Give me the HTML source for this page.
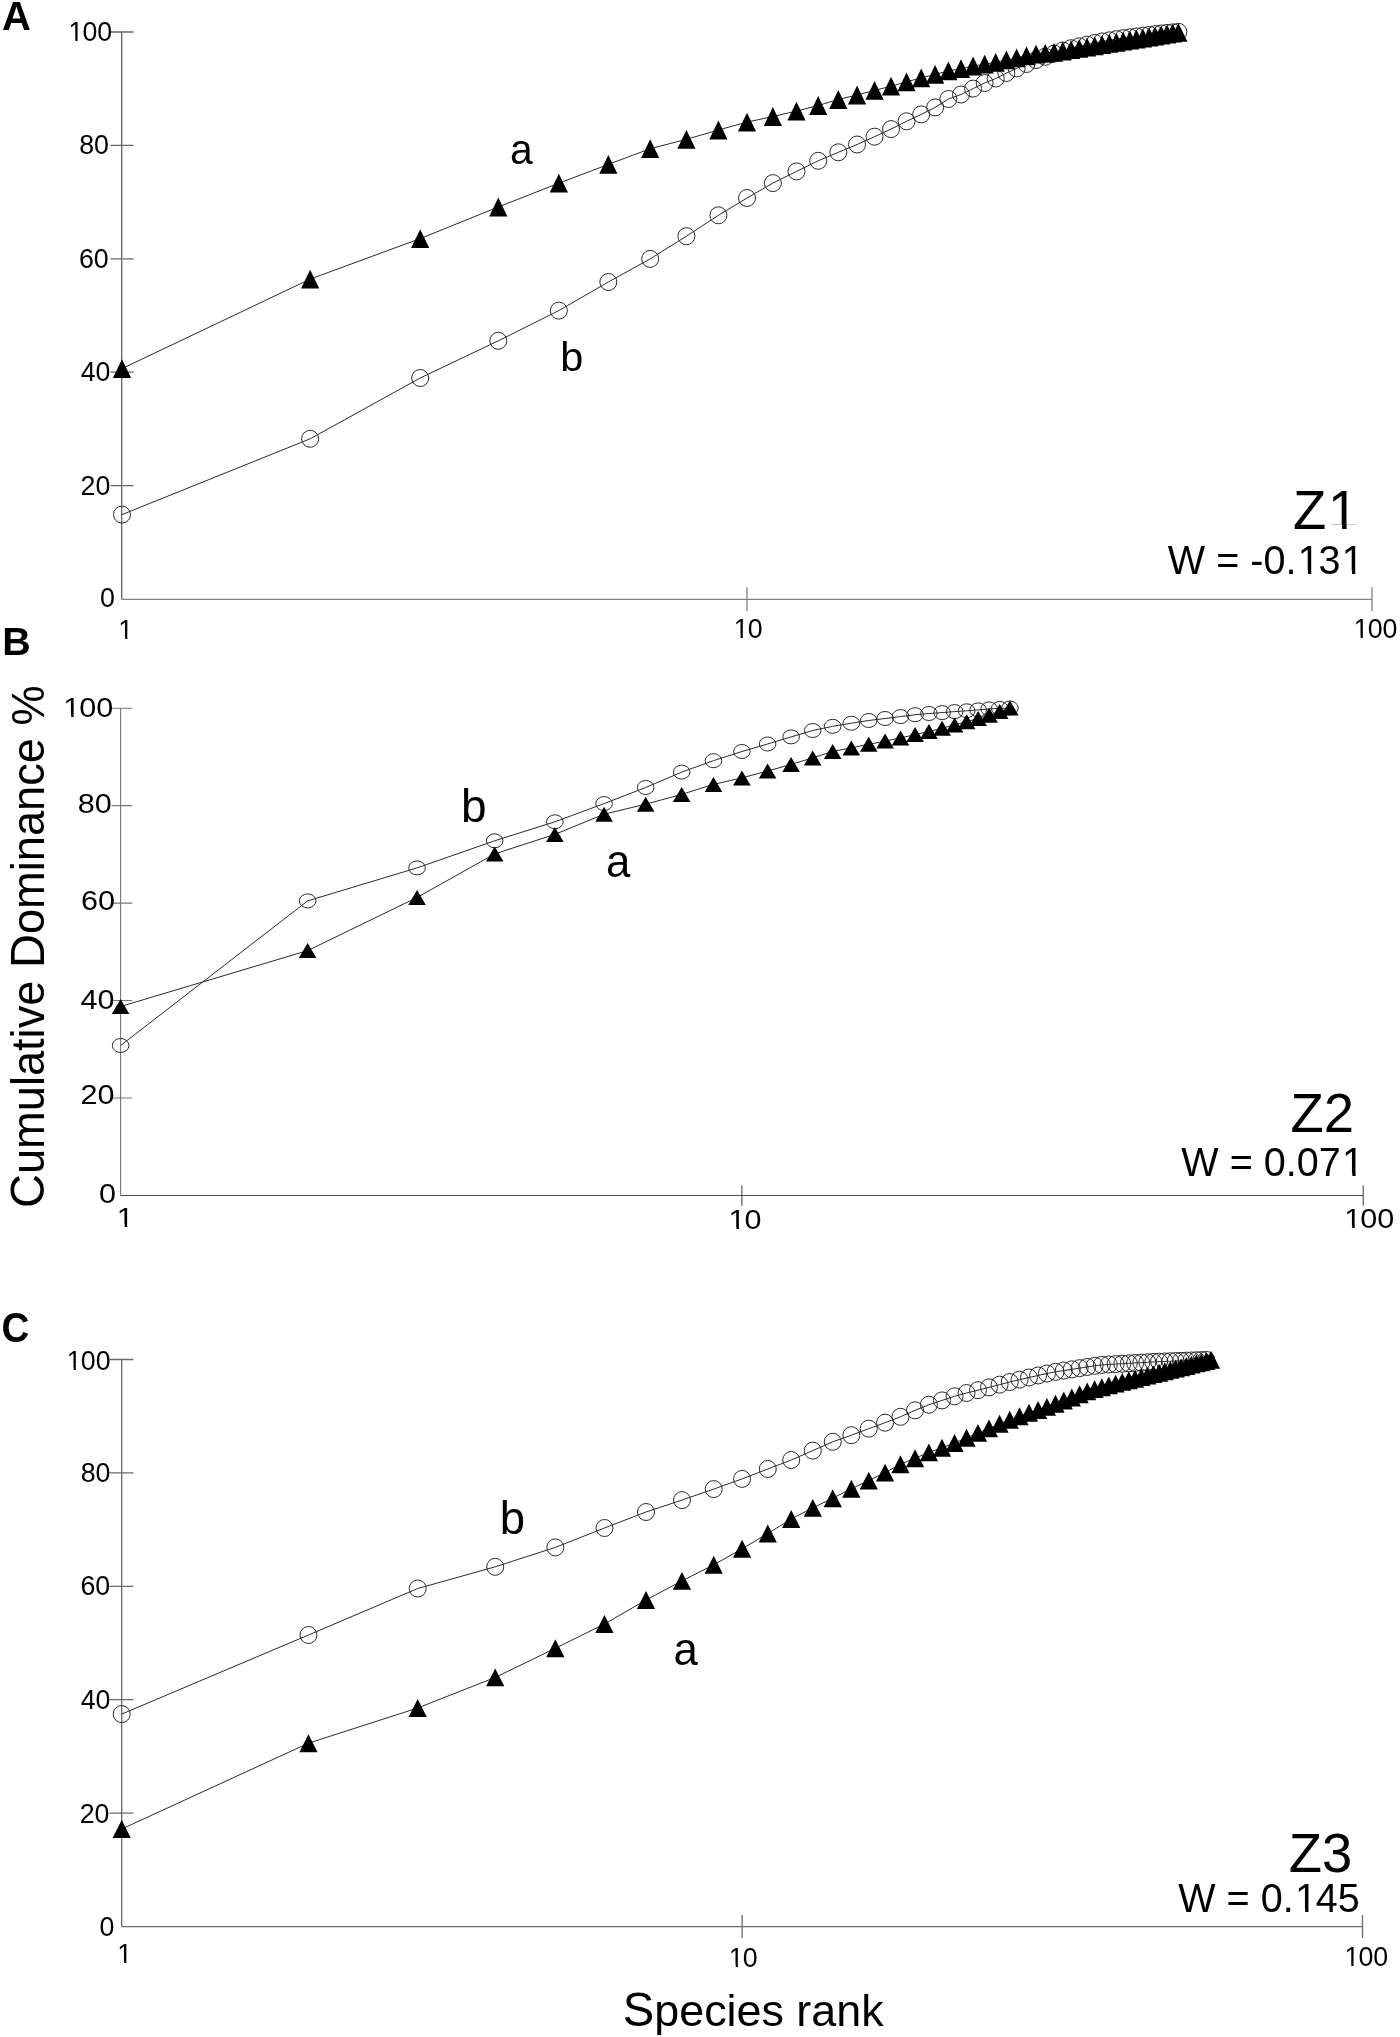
<!DOCTYPE html>
<html><head><meta charset="utf-8"><title>k-dominance curves</title>
<style>html,body{margin:0;padding:0;background:#fff}body{width:1400px;height:2037px;overflow:hidden;font-family:"Liberation Sans", sans-serif}svg{display:block;will-change:transform}</style>
</head><body>
<svg width="1400" height="2037" viewBox="0 0 1400 2037" font-family='"Liberation Sans", sans-serif' fill="#000">
<rect width="1400" height="2037" fill="#fff"/>
<path d="M121.7 32V599.3M110.5 485.6H133.5M110.5 372.2H133.5M110.5 258.8H133.5M110.5 145.4H133.5M110.5 32H133.5" fill="none" stroke="#666" stroke-width="1.3"/>
<path d="M121.7 599.3H1372M747 587.3V611.3M1372 587.3V611.3" fill="none" stroke="#808080" stroke-width="1.3"/>
<path d="M122 368.6 L310.14 279.1 L420.2 238.6 L498.29 207 L558.86 183.2 L608.34 164.4 L650.19 148.7 L686.43 139.3 L718.4 130 L747 122.1 L772.87 116.5 L796.49 111.1 L818.21 105.5 L838.33 99.5 L857.06 95 L874.57 90.4 L891.03 86.2 L906.55 81.8 L921.22 77.9 L935.14 74.4 L948.39 70.9 L961.01 68.6 L973.08 66 L984.63 64.2 L995.71 62.3 L1006.36 59.9 L1016.6 57.8 L1026.47 55.9 L1036 54.2 L1045.2 53.3 L1054.1 52.4 L1062.72 51 L1071.07 49.65 L1079.17 48.34 L1087.04 47.07 L1094.69 45.83 L1102.13 44.63 L1109.36 43.46 L1116.42 42.32 L1123.29 41.21 L1129.99 40.12 L1136.53 39.07 L1142.92 38.03 L1149.16 37.02 L1155.26 36.04 L1161.22 35.07 L1167.06 34.13 L1172.78 33.2 L1178.37 32.3" fill="none" stroke="#2a2a2a" stroke-width="1.0"/>
<path d="M122 514.6 L310.14 438.8 L420.2 378 L498.29 340.8 L558.86 310.6 L608.34 282 L650.19 258.9 L686.43 236.2 L718.4 215.3 L747 198 L772.87 183.1 L796.49 171.4 L818.21 160.8 L838.33 152.3 L857.06 144.5 L874.57 136.7 L891.03 129.1 L906.55 121.3 L921.22 114.4 L935.14 107.4 L948.39 99 L961.01 94.5 L973.08 88.6 L984.63 83 L995.71 78.5 L1006.36 73 L1016.6 68.5 L1026.47 64 L1036 60 L1045.2 56.8 L1054.1 53.6 L1062.72 50.5 L1071.07 48.2 L1079.17 46.3 L1087.04 44.6 L1094.69 42.95 L1102.13 41.46 L1109.36 40.3 L1116.42 39.17 L1123.29 38.17 L1129.99 37.3 L1136.53 36.45 L1142.92 35.65 L1149.16 34.9 L1155.26 34.17 L1161.22 33.48 L1167.06 32.91 L1172.78 32.35 L1178.37 31.8" fill="none" stroke="#2a2a2a" stroke-width="1.0"/>
<g fill="none" stroke="#2a2a2a" stroke-width="1.0">
<circle cx="122" cy="514.6" r="8.5"/>
<circle cx="310.14" cy="438.8" r="8.5"/>
<circle cx="420.2" cy="378" r="8.5"/>
<circle cx="498.29" cy="340.8" r="8.5"/>
<circle cx="558.86" cy="310.6" r="8.5"/>
<circle cx="608.34" cy="282" r="8.5"/>
<circle cx="650.19" cy="258.9" r="8.5"/>
<circle cx="686.43" cy="236.2" r="8.5"/>
<circle cx="718.4" cy="215.3" r="8.5"/>
<circle cx="747" cy="198" r="8.5"/>
<circle cx="772.87" cy="183.1" r="8.5"/>
<circle cx="796.49" cy="171.4" r="8.5"/>
<circle cx="818.21" cy="160.8" r="8.5"/>
<circle cx="838.33" cy="152.3" r="8.5"/>
<circle cx="857.06" cy="144.5" r="8.5"/>
<circle cx="874.57" cy="136.7" r="8.5"/>
<circle cx="891.03" cy="129.1" r="8.5"/>
<circle cx="906.55" cy="121.3" r="8.5"/>
<circle cx="921.22" cy="114.4" r="8.5"/>
<circle cx="935.14" cy="107.4" r="8.5"/>
<circle cx="948.39" cy="99" r="8.5"/>
<circle cx="961.01" cy="94.5" r="8.5"/>
<circle cx="973.08" cy="88.6" r="8.5"/>
<circle cx="984.63" cy="83" r="8.5"/>
<circle cx="995.71" cy="78.5" r="8.5"/>
<circle cx="1006.36" cy="73" r="8.5"/>
<circle cx="1016.6" cy="68.5" r="8.5"/>
<circle cx="1026.47" cy="64" r="8.5"/>
<circle cx="1036" cy="60" r="8.5"/>
<circle cx="1045.2" cy="56.8" r="8.5"/>
<circle cx="1054.1" cy="53.6" r="8.5"/>
<circle cx="1062.72" cy="50.5" r="8.5"/>
<circle cx="1071.07" cy="48.2" r="8.5"/>
<circle cx="1079.17" cy="46.3" r="8.5"/>
<circle cx="1087.04" cy="44.6" r="8.5"/>
<circle cx="1094.69" cy="42.95" r="8.5"/>
<circle cx="1102.13" cy="41.46" r="8.5"/>
<circle cx="1109.36" cy="40.3" r="8.5"/>
<circle cx="1116.42" cy="39.17" r="8.5"/>
<circle cx="1123.29" cy="38.17" r="8.5"/>
<circle cx="1129.99" cy="37.3" r="8.5"/>
<circle cx="1136.53" cy="36.45" r="8.5"/>
<circle cx="1142.92" cy="35.65" r="8.5"/>
<circle cx="1149.16" cy="34.9" r="8.5"/>
<circle cx="1155.26" cy="34.17" r="8.5"/>
<circle cx="1161.22" cy="33.48" r="8.5"/>
<circle cx="1167.06" cy="32.91" r="8.5"/>
<circle cx="1172.78" cy="32.35" r="8.5"/>
<circle cx="1178.37" cy="31.8" r="8.5"/>
</g>
<path d="M122 359.2L131.1 378L112.9 378ZM310.14 269.7L319.24 288.5L301.04 288.5ZM420.2 229.2L429.3 248L411.1 248ZM498.29 197.6L507.39 216.4L489.19 216.4ZM558.86 173.8L567.96 192.6L549.76 192.6ZM608.34 155L617.44 173.8L599.24 173.8ZM650.19 139.3L659.29 158.1L641.09 158.1ZM686.43 129.9L695.53 148.7L677.33 148.7ZM718.4 120.6L727.5 139.4L709.3 139.4ZM747 112.7L756.1 131.5L737.9 131.5ZM772.87 107.1L781.97 125.9L763.77 125.9ZM796.49 101.7L805.59 120.5L787.39 120.5ZM818.21 96.1L827.31 114.9L809.11 114.9ZM838.33 90.1L847.43 108.9L829.23 108.9ZM857.06 85.6L866.16 104.4L847.96 104.4ZM874.57 81L883.67 99.8L865.47 99.8ZM891.03 76.8L900.13 95.6L881.93 95.6ZM906.55 72.4L915.65 91.2L897.45 91.2ZM921.22 68.5L930.32 87.3L912.12 87.3ZM935.14 65L944.24 83.8L926.04 83.8ZM948.39 61.5L957.49 80.3L939.29 80.3ZM961.01 59.2L970.11 78L951.91 78ZM973.08 56.6L982.18 75.4L963.98 75.4ZM984.63 54.8L993.73 73.6L975.53 73.6ZM995.71 52.9L1004.81 71.7L986.61 71.7ZM1006.36 50.5L1015.46 69.3L997.26 69.3ZM1016.6 48.4L1025.7 67.2L1007.5 67.2ZM1026.47 46.5L1035.57 65.3L1017.37 65.3ZM1036 44.8L1045.1 63.6L1026.9 63.6ZM1045.2 43.9L1054.3 62.7L1036.1 62.7ZM1054.1 43L1063.2 61.8L1045 61.8ZM1062.72 41.6L1071.82 60.4L1053.62 60.4ZM1071.07 40.25L1080.17 59.05L1061.97 59.05ZM1079.17 38.94L1088.27 57.74L1070.07 57.74ZM1087.04 37.67L1096.14 56.47L1077.94 56.47ZM1094.69 36.43L1103.79 55.23L1085.59 55.23ZM1102.13 35.23L1111.23 54.03L1093.03 54.03ZM1109.36 34.06L1118.46 52.86L1100.26 52.86ZM1116.42 32.92L1125.52 51.72L1107.32 51.72ZM1123.29 31.81L1132.39 50.61L1114.19 50.61ZM1129.99 30.72L1139.09 49.52L1120.89 49.52ZM1136.53 29.67L1145.63 48.47L1127.43 48.47ZM1142.92 28.63L1152.02 47.43L1133.82 47.43ZM1149.16 27.62L1158.26 46.42L1140.06 46.42ZM1155.26 26.64L1164.36 45.44L1146.16 45.44ZM1161.22 25.67L1170.32 44.47L1152.12 44.47ZM1167.06 24.73L1176.16 43.53L1157.96 43.53ZM1172.78 23.8L1181.88 42.6L1163.68 42.6ZM1178.37 22.9L1187.47 41.7L1169.27 41.7Z" fill="#000"/>
<path d="M120.6 708.2V1195.5M111.5 1097.96H132.2M111.5 1000.52H132.2M111.5 903.08H132.2M111.5 805.64H132.2M111.5 708.2H132.2" fill="none" stroke="#777" stroke-width="1.1"/>
<path d="M120.6 1195.5H1363.2M741.9 1185.2V1205.7M1363.2 1185.2V1205.7" fill="none" stroke="#4a4a4a" stroke-width="1.1"/>
<path d="M120.6 1006.5 L307.63 950.6 L417.04 897.5 L494.66 853.9 L554.87 834.4 L604.07 814.2 L645.66 804.2 L681.69 794.4 L713.47 784.4 L741.9 777.9 L767.62 771 L791.1 764.4 L812.69 757.9 L832.69 751.4 L851.31 747.9 L868.72 744.3 L885.08 741.1 L900.5 737.9 L915.09 734.6 L928.93 731.5 L942.09 728.2 L954.65 724.9 L966.64 721.8 L978.13 718.4 L989.14 715.3 L999.72 711.6 L1009.91 708" fill="none" stroke="#2a2a2a" stroke-width="1.0"/>
<path d="M120.6 1045.5 L307.63 900.9 L417.04 867.9 L494.66 840.8 L554.87 821.8 L604.07 803.6 L645.66 787.5 L681.69 772.1 L713.47 760.7 L741.9 751.5 L767.62 744 L791.1 736.9 L812.69 730.5 L832.69 726.3 L851.31 723.2 L868.72 720.5 L885.08 718.5 L900.5 716.6 L915.09 714.7 L928.93 713.5 L942.09 712.6 L954.65 711.6 L966.64 710.8 L978.13 709.9 L989.14 708.9 L999.72 708.4 L1009.91 708" fill="none" stroke="#2a2a2a" stroke-width="1.0"/>
<g fill="none" stroke="#2a2a2a" stroke-width="1.0">
<ellipse cx="120.6" cy="1045.5" rx="8.3" ry="7"/>
<ellipse cx="307.63" cy="900.9" rx="8.3" ry="7"/>
<ellipse cx="417.04" cy="867.9" rx="8.3" ry="7"/>
<ellipse cx="494.66" cy="840.8" rx="8.3" ry="7"/>
<ellipse cx="554.87" cy="821.8" rx="8.3" ry="7"/>
<ellipse cx="604.07" cy="803.6" rx="8.3" ry="7"/>
<ellipse cx="645.66" cy="787.5" rx="8.3" ry="7"/>
<ellipse cx="681.69" cy="772.1" rx="8.3" ry="7"/>
<ellipse cx="713.47" cy="760.7" rx="8.3" ry="7"/>
<ellipse cx="741.9" cy="751.5" rx="8.3" ry="7"/>
<ellipse cx="767.62" cy="744" rx="8.3" ry="7"/>
<ellipse cx="791.1" cy="736.9" rx="8.3" ry="7"/>
<ellipse cx="812.69" cy="730.5" rx="8.3" ry="7"/>
<ellipse cx="832.69" cy="726.3" rx="8.3" ry="7"/>
<ellipse cx="851.31" cy="723.2" rx="8.3" ry="7"/>
<ellipse cx="868.72" cy="720.5" rx="8.3" ry="7"/>
<ellipse cx="885.08" cy="718.5" rx="8.3" ry="7"/>
<ellipse cx="900.5" cy="716.6" rx="8.3" ry="7"/>
<ellipse cx="915.09" cy="714.7" rx="8.3" ry="7"/>
<ellipse cx="928.93" cy="713.5" rx="8.3" ry="7"/>
<ellipse cx="942.09" cy="712.6" rx="8.3" ry="7"/>
<ellipse cx="954.65" cy="711.6" rx="8.3" ry="7"/>
<ellipse cx="966.64" cy="710.8" rx="8.3" ry="7"/>
<ellipse cx="978.13" cy="709.9" rx="8.3" ry="7"/>
<ellipse cx="989.14" cy="708.9" rx="8.3" ry="7"/>
<ellipse cx="999.72" cy="708.4" rx="8.3" ry="7"/>
<ellipse cx="1009.91" cy="708" rx="8.3" ry="7"/>
</g>
<path d="M120.6 999L129.4 1014L111.8 1014ZM307.63 943.1L316.43 958.1L298.83 958.1ZM417.04 890L425.84 905L408.24 905ZM494.66 846.4L503.46 861.4L485.86 861.4ZM554.87 826.9L563.67 841.9L546.07 841.9ZM604.07 806.7L612.87 821.7L595.27 821.7ZM645.66 796.7L654.46 811.7L636.86 811.7ZM681.69 786.9L690.49 801.9L672.89 801.9ZM713.47 776.9L722.27 791.9L704.67 791.9ZM741.9 770.4L750.7 785.4L733.1 785.4ZM767.62 763.5L776.42 778.5L758.82 778.5ZM791.1 756.9L799.9 771.9L782.3 771.9ZM812.69 750.4L821.49 765.4L803.89 765.4ZM832.69 743.9L841.49 758.9L823.89 758.9ZM851.31 740.4L860.11 755.4L842.51 755.4ZM868.72 736.8L877.52 751.8L859.92 751.8ZM885.08 733.6L893.88 748.6L876.28 748.6ZM900.5 730.4L909.3 745.4L891.7 745.4ZM915.09 727.1L923.89 742.1L906.29 742.1ZM928.93 724L937.73 739L920.13 739ZM942.09 720.7L950.89 735.7L933.29 735.7ZM954.65 717.4L963.45 732.4L945.85 732.4ZM966.64 714.3L975.44 729.3L957.84 729.3ZM978.13 710.9L986.93 725.9L969.33 725.9ZM989.14 707.8L997.94 722.8L980.34 722.8ZM999.72 704.1L1008.52 719.1L990.92 719.1ZM1009.91 700.5L1018.71 715.5L1001.11 715.5Z" fill="#000"/>
<path d="M121.7 1359.5V1926.6M109.5 1813.1H133.5M109.5 1699.7H133.5M109.5 1586.3H133.5M109.5 1472.9H133.5M109.5 1359.5H133.5" fill="none" stroke="#6a6a6a" stroke-width="1.3"/>
<path d="M121.7 1926.6H1362.5M742.1 1915.1V1938.1M1362.5 1915.1V1938.1" fill="none" stroke="#6a6a6a" stroke-width="1.3"/>
<path d="M121.7 1829 L308.46 1743.2 L417.71 1708 L495.22 1677.4 L555.34 1648.3 L604.47 1624 L646 1600 L681.98 1580.9 L713.71 1564.8 L742.1 1548.8 L767.78 1533.5 L791.22 1519 L812.79 1507.9 L832.76 1498.2 L851.35 1488.7 L868.74 1480.6 L885.07 1472.6 L900.47 1464.2 L915.04 1458.2 L928.86 1452.4 L942 1447.8 L954.54 1443 L966.52 1437.8 L977.98 1432.9 L988.98 1428.4 L999.55 1423.8 L1009.72 1419.7 L1019.52 1416.2 L1028.97 1412.8 L1038.11 1410 L1046.94 1406.9 L1055.5 1403.7 L1063.79 1400.5 L1071.83 1397.5 L1079.64 1394.2 L1087.23 1391.4 L1094.61 1389.1 L1101.8 1387.2 L1108.8 1385.4 L1115.62 1383.6 L1122.27 1381.9 L1128.76 1380.28 L1135.1 1378.69 L1141.3 1377.15 L1147.35 1375.63 L1153.27 1374.15 L1159.07 1372.71 L1164.74 1371.29 L1170.3 1369.9 L1175.74 1368.55 L1181.08 1367.23 L1186.31 1365.93 L1191.44 1364.66 L1196.48 1363.41 L1201.42 1362.19 L1206.28 1360.98 L1211.04 1359.8" fill="none" stroke="#2a2a2a" stroke-width="1.0"/>
<path d="M121.7 1714.1 L308.46 1635 L417.71 1588.5 L495.22 1566.8 L555.34 1547.4 L604.47 1528 L646 1512 L681.98 1500.1 L713.71 1489.1 L742.1 1478.9 L767.78 1469 L791.22 1460 L812.79 1450.6 L832.76 1441.8 L851.35 1435.2 L868.74 1428.7 L885.07 1422.7 L900.47 1416.8 L915.04 1410.3 L928.86 1404.7 L942 1400.4 L954.54 1396.3 L966.52 1393 L977.98 1390.2 L988.98 1387.37 L999.55 1384.65 L1009.72 1382.04 L1019.52 1379.64 L1028.97 1377.53 L1038.11 1375.48 L1046.94 1373.5 L1055.5 1371.87 L1063.79 1370.59 L1071.83 1369.34 L1079.64 1368.14 L1087.23 1366.96 L1094.61 1365.83 L1101.8 1364.9 L1108.8 1364.49 L1115.62 1364.1 L1122.27 1363.72 L1128.76 1363.35 L1135.1 1362.98 L1141.3 1362.63 L1147.35 1362.28 L1153.27 1361.94 L1159.07 1361.67 L1164.74 1361.46 L1170.3 1361.25 L1175.74 1361.05 L1181.08 1360.85 L1186.31 1360.65 L1191.44 1360.46 L1196.48 1360.27 L1201.42 1360.08 L1206.28 1359.9" fill="none" stroke="#2a2a2a" stroke-width="1.0"/>
<g fill="none" stroke="#2a2a2a" stroke-width="1.0">
<circle cx="121.7" cy="1714.1" r="8.5"/>
<circle cx="308.46" cy="1635" r="8.5"/>
<circle cx="417.71" cy="1588.5" r="8.5"/>
<circle cx="495.22" cy="1566.8" r="8.5"/>
<circle cx="555.34" cy="1547.4" r="8.5"/>
<circle cx="604.47" cy="1528" r="8.5"/>
<circle cx="646" cy="1512" r="8.5"/>
<circle cx="681.98" cy="1500.1" r="8.5"/>
<circle cx="713.71" cy="1489.1" r="8.5"/>
<circle cx="742.1" cy="1478.9" r="8.5"/>
<circle cx="767.78" cy="1469" r="8.5"/>
<circle cx="791.22" cy="1460" r="8.5"/>
<circle cx="812.79" cy="1450.6" r="8.5"/>
<circle cx="832.76" cy="1441.8" r="8.5"/>
<circle cx="851.35" cy="1435.2" r="8.5"/>
<circle cx="868.74" cy="1428.7" r="8.5"/>
<circle cx="885.07" cy="1422.7" r="8.5"/>
<circle cx="900.47" cy="1416.8" r="8.5"/>
<circle cx="915.04" cy="1410.3" r="8.5"/>
<circle cx="928.86" cy="1404.7" r="8.5"/>
<circle cx="942" cy="1400.4" r="8.5"/>
<circle cx="954.54" cy="1396.3" r="8.5"/>
<circle cx="966.52" cy="1393" r="8.5"/>
<circle cx="977.98" cy="1390.2" r="8.5"/>
<circle cx="988.98" cy="1387.37" r="8.5"/>
<circle cx="999.55" cy="1384.65" r="8.5"/>
<circle cx="1009.72" cy="1382.04" r="8.5"/>
<circle cx="1019.52" cy="1379.64" r="8.5"/>
<circle cx="1028.97" cy="1377.53" r="8.5"/>
<circle cx="1038.11" cy="1375.48" r="8.5"/>
<circle cx="1046.94" cy="1373.5" r="8.5"/>
<circle cx="1055.5" cy="1371.87" r="8.5"/>
<circle cx="1063.79" cy="1370.59" r="8.5"/>
<circle cx="1071.83" cy="1369.34" r="8.5"/>
<circle cx="1079.64" cy="1368.14" r="8.5"/>
<circle cx="1087.23" cy="1366.96" r="8.5"/>
<circle cx="1094.61" cy="1365.83" r="8.5"/>
<circle cx="1101.8" cy="1364.9" r="8.5"/>
<circle cx="1108.8" cy="1364.49" r="8.5"/>
<circle cx="1115.62" cy="1364.1" r="8.5"/>
<circle cx="1122.27" cy="1363.72" r="8.5"/>
<circle cx="1128.76" cy="1363.35" r="8.5"/>
<circle cx="1135.1" cy="1362.98" r="8.5"/>
<circle cx="1141.3" cy="1362.63" r="8.5"/>
<circle cx="1147.35" cy="1362.28" r="8.5"/>
<circle cx="1153.27" cy="1361.94" r="8.5"/>
<circle cx="1159.07" cy="1361.67" r="8.5"/>
<circle cx="1164.74" cy="1361.46" r="8.5"/>
<circle cx="1170.3" cy="1361.25" r="8.5"/>
<circle cx="1175.74" cy="1361.05" r="8.5"/>
<circle cx="1181.08" cy="1360.85" r="8.5"/>
<circle cx="1186.31" cy="1360.65" r="8.5"/>
<circle cx="1191.44" cy="1360.46" r="8.5"/>
<circle cx="1196.48" cy="1360.27" r="8.5"/>
<circle cx="1201.42" cy="1360.08" r="8.5"/>
<circle cx="1206.28" cy="1359.9" r="8.5"/>
</g>
<path d="M121.7 1820.05L130.8 1837.95L112.6 1837.95ZM308.46 1734.25L317.56 1752.15L299.36 1752.15ZM417.71 1699.05L426.81 1716.95L408.61 1716.95ZM495.22 1668.45L504.32 1686.35L486.12 1686.35ZM555.34 1639.35L564.44 1657.25L546.24 1657.25ZM604.47 1615.05L613.57 1632.95L595.37 1632.95ZM646 1591.05L655.1 1608.95L636.9 1608.95ZM681.98 1571.95L691.08 1589.85L672.88 1589.85ZM713.71 1555.85L722.81 1573.75L704.61 1573.75ZM742.1 1539.85L751.2 1557.75L733 1557.75ZM767.78 1524.55L776.88 1542.45L758.68 1542.45ZM791.22 1510.05L800.32 1527.95L782.12 1527.95ZM812.79 1498.95L821.89 1516.85L803.69 1516.85ZM832.76 1489.25L841.86 1507.15L823.66 1507.15ZM851.35 1479.75L860.45 1497.65L842.25 1497.65ZM868.74 1471.65L877.84 1489.55L859.64 1489.55ZM885.07 1463.65L894.17 1481.55L875.97 1481.55ZM900.47 1455.25L909.57 1473.15L891.37 1473.15ZM915.04 1449.25L924.14 1467.15L905.94 1467.15ZM928.86 1443.45L937.96 1461.35L919.76 1461.35ZM942 1438.85L951.1 1456.75L932.9 1456.75ZM954.54 1434.05L963.64 1451.95L945.44 1451.95ZM966.52 1428.85L975.62 1446.75L957.42 1446.75ZM977.98 1423.95L987.08 1441.85L968.88 1441.85ZM988.98 1419.45L998.08 1437.35L979.88 1437.35ZM999.55 1414.85L1008.65 1432.75L990.45 1432.75ZM1009.72 1410.75L1018.82 1428.65L1000.62 1428.65ZM1019.52 1407.25L1028.62 1425.15L1010.42 1425.15ZM1028.97 1403.85L1038.07 1421.75L1019.87 1421.75ZM1038.11 1401.05L1047.21 1418.95L1029.01 1418.95ZM1046.94 1397.95L1056.04 1415.85L1037.84 1415.85ZM1055.5 1394.75L1064.6 1412.65L1046.4 1412.65ZM1063.79 1391.55L1072.89 1409.45L1054.69 1409.45ZM1071.83 1388.55L1080.93 1406.45L1062.73 1406.45ZM1079.64 1385.25L1088.74 1403.15L1070.54 1403.15ZM1087.23 1382.45L1096.33 1400.35L1078.13 1400.35ZM1094.61 1380.15L1103.71 1398.05L1085.51 1398.05ZM1101.8 1378.25L1110.9 1396.15L1092.7 1396.15ZM1108.8 1376.45L1117.9 1394.35L1099.7 1394.35ZM1115.62 1374.65L1124.72 1392.55L1106.52 1392.55ZM1122.27 1372.95L1131.37 1390.85L1113.17 1390.85ZM1128.76 1371.33L1137.86 1389.23L1119.66 1389.23ZM1135.1 1369.74L1144.2 1387.64L1126 1387.64ZM1141.3 1368.2L1150.4 1386.1L1132.2 1386.1ZM1147.35 1366.68L1156.45 1384.58L1138.25 1384.58ZM1153.27 1365.2L1162.37 1383.1L1144.17 1383.1ZM1159.07 1363.76L1168.17 1381.66L1149.97 1381.66ZM1164.74 1362.34L1173.84 1380.24L1155.64 1380.24ZM1170.3 1360.95L1179.4 1378.85L1161.2 1378.85ZM1175.74 1359.6L1184.84 1377.5L1166.64 1377.5ZM1181.08 1358.28L1190.18 1376.18L1171.98 1376.18ZM1186.31 1356.98L1195.41 1374.88L1177.21 1374.88ZM1191.44 1355.71L1200.54 1373.61L1182.34 1373.61ZM1196.48 1354.46L1205.58 1372.36L1187.38 1372.36ZM1201.42 1353.24L1210.52 1371.14L1192.32 1371.14ZM1206.28 1352.03L1215.38 1369.93L1197.18 1369.93ZM1211.04 1350.85L1220.14 1368.75L1201.94 1368.75Z" fill="#000"/>
<g transform="translate(67.58 41.13) scale(0.98 1)"><text font-size="27.3"><tspan dx="0.9">1</tspan><tspan dx="-0.9">0</tspan>0</text><g fill="#fff"><rect x="1.7" y="-2.39" width="6.24" height="3.19"/><rect x="10.21" y="-2.39" width="5.63" height="3.19"/></g></g>
<text transform="translate(79.24 154.13) scale(0.98 1)" font-size="27.3">80</text>
<text transform="translate(78.94 268.23) scale(0.98 1)" font-size="27.3">60</text>
<text transform="translate(80.64 381.13) scale(0.98 1)" font-size="27.3">40</text>
<text transform="translate(80.54 494.53) scale(0.98 1)" font-size="27.3">20</text>
<text transform="translate(100 607.43) scale(0.98 1)" font-size="27.3">0</text>
<g transform="translate(117.4 638.7) scale(0.98 1)"><text font-size="27.3"><tspan dx="0.9">1</tspan></text><g fill="#fff"><rect x="1.7" y="-2.39" width="6.24" height="3.19"/><rect x="10.21" y="-2.39" width="5.63" height="3.19"/></g></g>
<g transform="translate(732.83 638.03) scale(0.98 1)"><text font-size="27.3"><tspan dx="0.9">1</tspan><tspan dx="-0.9">0</tspan></text><g fill="#fff"><rect x="1.7" y="-2.39" width="6.24" height="3.19"/><rect x="10.21" y="-2.39" width="5.63" height="3.19"/></g></g>
<g transform="translate(1352.86 638.03) scale(0.98 1)"><text font-size="27.3"><tspan dx="0.9">1</tspan><tspan dx="-0.9">0</tspan>0</text><g fill="#fff"><rect x="1.7" y="-2.39" width="6.24" height="3.19"/><rect x="10.21" y="-2.39" width="5.63" height="3.19"/></g></g>
<g transform="translate(62.26 716.53) scale(1.12 1)"><text font-size="27.3"><tspan dx="0.9">1</tspan><tspan dx="-0.9">0</tspan>0</text><g fill="#fff"><rect x="1.7" y="-2.39" width="6.24" height="3.19"/><rect x="10.21" y="-2.39" width="5.63" height="3.19"/></g></g>
<text transform="translate(77.84 813.03) scale(1.12 1)" font-size="27.3">80</text>
<text transform="translate(81.04 910.03) scale(1.12 1)" font-size="27.3">60</text>
<text transform="translate(80.44 1009.23) scale(1.12 1)" font-size="27.3">40</text>
<text transform="translate(80.44 1104.13) scale(1.12 1)" font-size="27.3">20</text>
<text transform="translate(99.02 1202.63) scale(1.12 1)" font-size="27.3">0</text>
<g transform="translate(115.79 1226.9) scale(1.12 1)"><text font-size="27.3"><tspan dx="0.9">1</tspan></text><g fill="#fff"><rect x="1.7" y="-2.39" width="6.24" height="3.19"/><rect x="10.21" y="-2.39" width="5.63" height="3.19"/></g></g>
<g transform="translate(727.54 1229.03) scale(1.12 1)"><text font-size="27.3"><tspan dx="0.9">1</tspan><tspan dx="-0.9">0</tspan></text><g fill="#fff"><rect x="1.7" y="-2.39" width="6.24" height="3.19"/><rect x="10.21" y="-2.39" width="5.63" height="3.19"/></g></g>
<g transform="translate(1343.34 1228.03) scale(1.12 1)"><text font-size="27.3"><tspan dx="0.9">1</tspan><tspan dx="-0.9">0</tspan>0</text><g fill="#fff"><rect x="1.7" y="-2.39" width="6.24" height="3.19"/><rect x="10.21" y="-2.39" width="5.63" height="3.19"/></g></g>
<g transform="translate(65.88 1369.63) scale(0.98 1)"><text font-size="27.3"><tspan dx="0.9">1</tspan><tspan dx="-0.9">0</tspan>0</text><g fill="#fff"><rect x="1.7" y="-2.39" width="6.24" height="3.19"/><rect x="10.21" y="-2.39" width="5.63" height="3.19"/></g></g>
<text transform="translate(80.64 1482.03) scale(0.98 1)" font-size="27.3">80</text>
<text transform="translate(80.44 1595.13) scale(0.98 1)" font-size="27.3">60</text>
<text transform="translate(80.64 1708.83) scale(0.98 1)" font-size="27.3">40</text>
<text transform="translate(79.64 1823.23) scale(0.98 1)" font-size="27.3">20</text>
<text transform="translate(99.5 1936.13) scale(0.98 1)" font-size="27.3">0</text>
<g transform="translate(116.35 1963.4) scale(0.98 1)"><text font-size="27.3"><tspan dx="0.9">1</tspan></text><g fill="#fff"><rect x="1.7" y="-2.39" width="6.24" height="3.19"/><rect x="10.21" y="-2.39" width="5.63" height="3.19"/></g></g>
<g transform="translate(727.93 1966.93) scale(0.98 1)"><text font-size="27.3"><tspan dx="0.9">1</tspan><tspan dx="-0.9">0</tspan></text><g fill="#fff"><rect x="1.7" y="-2.39" width="6.24" height="3.19"/><rect x="10.21" y="-2.39" width="5.63" height="3.19"/></g></g>
<g transform="translate(1343.51 1965.83) scale(0.98 1)"><text font-size="27.3"><tspan dx="0.9">1</tspan><tspan dx="-0.9">0</tspan>0</text><g fill="#fff"><rect x="1.7" y="-2.39" width="6.24" height="3.19"/><rect x="10.21" y="-2.39" width="5.63" height="3.19"/></g></g>
<text x="2.1" y="29.5" font-size="40" font-weight="bold">A</text>
<text x="2.16" y="655.2" font-size="39.5" font-weight="bold">B</text>
<text transform="translate(1.52 1341.89) scale(0.91 1)" font-size="42.3" font-weight="bold">C</text>
<text transform="translate(509.96 164.28) scale(0.95 1)" font-size="43">a</text>
<text x="560.33" y="370.59" font-size="41.5">b</text>
<text x="461.04" y="822.15" font-size="46">b</text>
<text transform="translate(605.94 877.25) scale(0.94 1)" font-size="46.5">a</text>
<text x="499.87" y="1534.26" font-size="45.5">b</text>
<text transform="translate(673.54 1664.94) scale(0.93 1)" font-size="47">a</text>
<g transform="translate(1293.06 529.4) scale(0.98 1)"><text font-size="55.5">Z<tspan dx="1.83">1</tspan></text><g fill="#fff"><rect x="37.36" y="-4.5" width="12.68" height="5.3"/><rect x="54.65" y="-4.5" width="11.44" height="5.3"/></g></g>
<g transform="translate(1167.83 574.1) scale(0.97 1)"><text font-size="40.8">W = -0.<tspan dx="1.35">1</tspan><tspan dx="-1.35">3</tspan><tspan dx="1.35">1</tspan></text><g fill="#fff"><rect x="135.16" y="-3.4" width="9.32" height="4.2"/><rect x="147.87" y="-3.4" width="8.41" height="4.2"/><rect x="180.54" y="-3.4" width="9.32" height="4.2"/><rect x="193.25" y="-3.4" width="8.41" height="4.2"/></g></g>
<text transform="translate(1290.46 1132.1) scale(0.98 1)" font-size="55.5">Z2</text>
<g transform="translate(1181.33 1176.4) scale(0.97 1)"><text font-size="40.8">W = 0.07<tspan dx="1.35">1</tspan></text><g fill="#fff"><rect x="166.96" y="-3.4" width="9.32" height="4.2"/><rect x="179.67" y="-3.4" width="8.41" height="4.2"/></g></g>
<text transform="translate(1288.86 1871.56) scale(0.98 1)" font-size="55.5">Z3</text>
<g transform="translate(1178.23 1911.7) scale(0.97 1)"><text font-size="40.8">W = 0.<tspan dx="1.35">1</tspan><tspan dx="-1.35">4</tspan>5</text><g fill="#fff"><rect x="121.57" y="-3.4" width="9.32" height="4.2"/><rect x="134.29" y="-3.4" width="8.41" height="4.2"/></g></g>
<text transform="translate(622.86 2025.6) scale(0.99 1)" font-size="45.3"><tspan font-size="47.6">S</tspan>pecies rank</text>
<text transform="translate(44.04 1208.01) rotate(-90)" font-size="45.5" textLength="522.63" lengthAdjust="spacingAndGlyphs"><tspan font-size="47.4">C</tspan>umulative <tspan font-size="47.4">D</tspan>ominance %</text>
</svg>
</body></html>
